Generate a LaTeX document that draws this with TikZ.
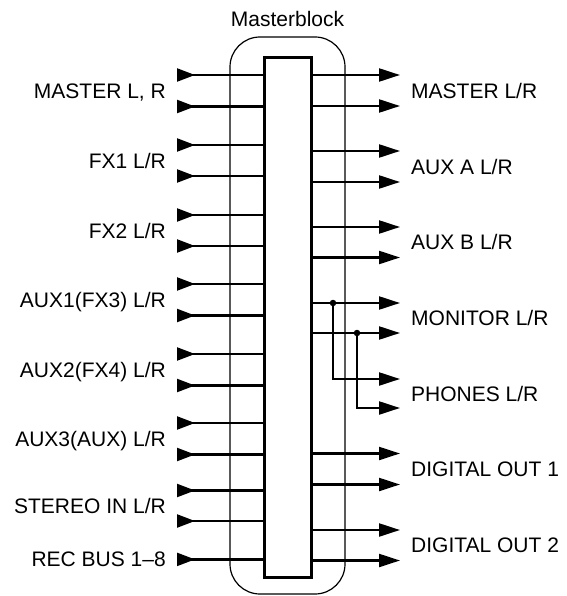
\documentclass[tikz,border=0pt]{standalone}
\usepackage{fontspec}
\setmainfont{Liberation Sans}
\usetikzlibrary{arrows.meta}
\begin{document}
\begin{tikzpicture}[x=1pt,y=-1pt,
  lbl/.style={font=\fontsize{21}{24}\selectfont, inner sep=0pt},
  sig/.style={line width=2.2pt},
  inarr/.style={sig, {Triangle[reversed,length=18pt,width=13pt]}-},
  outarr/.style={sig, -{Triangle[length=21pt,width=13pt]}},
  dotc/.style={circle, fill=black, inner sep=0pt, minimum size=6.5pt}
]
\useasboundingbox (0,0) rectangle (566,596);
% outer rounded frame
\draw[line width=1.2pt, rounded corners=30pt] (230,37) rectangle (345,594);
% inner block
\node[draw, line width=3pt, fill=white, minimum width=47pt, minimum height=519pt, inner sep=0pt] (mb) at (287.5,317.5) {};
\node[lbl, anchor=base] (title) at (287.5,27) {Masterblock};
% inputs
\foreach \i/\y in {1/75,2/106.5,3/145,4/176,5/215,6/246,7/284,8/315.5,9/354,10/385.5,11/423,12/454.5,13/490.5,14/521,15/559.4}{
  \coordinate (in\i) at (177,\y);
  \draw[inarr] (in\i) -- (in\i -| mb.west);
}
% left labels
\foreach \n/\y/\t in {a/91/{MASTER L, R},b/160.5/{FX1 L/R},c/230.5/{FX2 L/R},d/300/{AUX1(FX3) L/R},e/370/{AUX2(FX4) L/R},f/439/{AUX3(AUX) L/R},g/505.5/{STEREO IN L/R},h/559.4/{REC BUS 1–8}}{
  \node[lbl, anchor=base east] (l\n) at (166,\y+7.5) {\t};
}
% outputs
\foreach \i/\y in {1/75,2/106,3/151,4/182,5/227,6/257.5,7/303,8/333,11/453.5,12/484.5,13/530,14/560.5}{
  \coordinate (out\i) at (400,\y);
  \draw[outarr] (out\i -| mb.east) -- (out\i);
}
% phones branches
\node[dotc] (d1) at (333,303) {};
\node[dotc] (d2) at (357,333) {};
\coordinate (out9) at (400,379);
\coordinate (out10) at (400,408);
\draw[outarr] (d1.center) |- (out9);
\draw[outarr] (d2.center) |- (out10);
% right labels
\foreach \n/\y/\t in {a/91/{MASTER L/R},b/166.5/{AUX A L/R},c/242/{AUX B L/R},d/318/{MONITOR L/R},e/393.5/{PHONES L/R},f/469/{DIGITAL OUT 1},g/545/{DIGITAL OUT 2}}{
  \node[lbl, anchor=base west] (r\n) at (411,\y+7.5) {\t};
}
\end{tikzpicture}
\end{document}
